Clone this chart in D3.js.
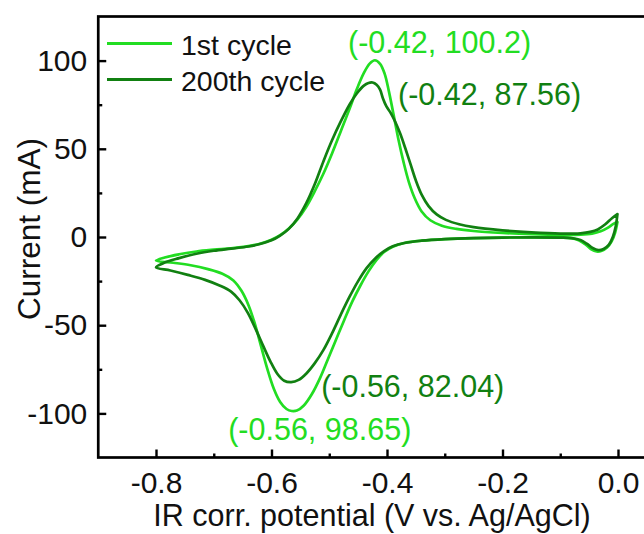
<!DOCTYPE html>
<html>
<head>
<meta charset="utf-8">
<script src="https://cdn.jsdelivr.net/npm/d3@7"></script>
<style>
  html, body { margin: 0; padding: 0; background: #fff; }
  svg { display: block; font-family: "Liberation Sans", Arial, Helvetica, sans-serif; }
</style>
</head>
<body>
<svg id="chart" width="644" height="534"></svg>
<script>
// ---------------- data ----------------
const seriesNames = ["1st cycle", "200th cycle"];

const cycle1V = [-0.001,-0.005,-0.011,-0.019,-0.028,-0.037,-0.047,-0.057,-0.068,-0.082,-0.10,-0.15,-0.20,-0.25,-0.30,-0.34,-0.37,-0.39,-0.405,-0.418,-0.432,-0.446,-0.46,-0.474,-0.488,-0.502,-0.516,-0.53,-0.544,-0.556,-0.565,-0.574,-0.585,-0.596,-0.607,-0.618,-0.629,-0.64,-0.652,-0.666,-0.685,-0.71,-0.74,-0.77,-0.8,
  -0.785,-0.76,-0.73,-0.70,-0.67,-0.64,-0.62,-0.60,-0.585,-0.57,-0.555,-0.54,-0.525,-0.51,-0.495,-0.48,-0.465,-0.452,-0.44,-0.43,-0.421,-0.412,-0.404,-0.397,-0.389,-0.38,-0.371,-0.362,-0.352,-0.34,-0.325,-0.305,-0.28,-0.25,-0.2,-0.15,-0.1,-0.065,-0.045,-0.03,-0.018,-0.008,-0.001];
const cycle1I = [8.5,2.5,-2.5,-6.0,-7.8,-8.2,-6.8,-4.0,-1.8,-0.6,-0.3,-0.2,-0.3,-0.6,-1.2,-2.1,-3.4,-5.5,-8.5,-13,-19.5,-27.5,-36.5,-47,-58,-69,-80,-89,-95.5,-98.4,-98.65,-97.5,-93.5,-86,-75,-62,-49,-38.5,-30.5,-24.6,-20.8,-18.2,-16,-14.6,-13.4,
  -11.6,-9.8,-8.2,-7.2,-6.4,-5.2,-3.8,-1.6,1.0,4.8,10,17,26,36,47.5,60,72.5,84,93,98.3,100.2,98.2,92.5,83,70,55,42,31,22,14.5,9.5,6.4,4.6,3.4,2.3,1.6,1.2,1.3,1.9,3.2,5.2,7.4,8.5];

const cycle200V = [-0.001,-0.004,-0.009,-0.016,-0.025,-0.034,-0.044,-0.054,-0.065,-0.08,-0.10,-0.15,-0.20,-0.25,-0.30,-0.34,-0.37,-0.39,-0.405,-0.42,-0.435,-0.45,-0.465,-0.48,-0.495,-0.51,-0.525,-0.54,-0.553,-0.566,-0.578,-0.59,-0.602,-0.614,-0.627,-0.641,-0.655,-0.67,-0.69,-0.715,-0.745,-0.775,-0.8,
  -0.785,-0.76,-0.73,-0.70,-0.67,-0.64,-0.62,-0.60,-0.585,-0.57,-0.555,-0.54,-0.525,-0.51,-0.495,-0.48,-0.465,-0.452,-0.44,-0.432,-0.425,-0.418,-0.412,-0.407,-0.401,-0.394,-0.386,-0.377,-0.368,-0.359,-0.35,-0.34,-0.328,-0.314,-0.298,-0.275,-0.25,-0.2,-0.15,-0.1,-0.065,-0.048,-0.035,-0.022,-0.01,-0.001];
const cycle200I = [13,6,0,-4.5,-6.8,-7.4,-6.2,-3.8,-1.7,-0.6,-0.3,-0.2,-0.3,-0.6,-1.2,-2.1,-3.4,-5.3,-8,-12,-17.5,-25,-34,-44,-54.5,-64,-71.5,-77.5,-81,-82.3,-81.5,-77.5,-70.5,-62,-52.5,-43,-36,-31,-27.5,-24.3,-21.5,-19,-17.2,
  -14.5,-12,-9.5,-7.8,-6.6,-5.4,-4.0,-1.9,0.8,4.6,10.5,19,30,43,55,65.5,75,81.5,85.8,87.3,87.56,86.3,83.5,78.5,74,70.5,65.5,58.5,50,41,32,24,17.5,12.8,9.7,7.2,5.6,3.8,2.6,1.9,2.1,2.9,4.3,7.2,10.8,13];

const xTickValues = [-0.8, -0.6, -0.4, -0.2, 0.0];
const xTickLabels = ["-0.8", "-0.6", "-0.4", "-0.2", "0.0"];
const xMinorTicks = [-0.7, -0.5, -0.3, -0.1];
const yTickValues = [-100, -50, 0, 50, 100];
const yTickLabels = ["-100", "-50", "0", "50", "100"];
const yMinorTicks = [-75, -25, 25, 75];

const annotTexts = ["(-0.42, 100.2)", "(-0.42, 87.56)", "(-0.56, 82.04)", "(-0.56, 98.65)"];
const annotSeries = [0, 1, 1, 0];
const annotV = [-0.4675, -0.381, -0.514, -0.675];
const annotI = [104.3, 74.8, -90.7, -115.1];

const xTitle = "IR corr. potential (V vs. Ag/AgCl)";
const yTitle = "Current (mA)";

// ---------------- layout ----------------
const colors = ["#22dd22", "#118011"];
const plot = { left: 98.25, right: 675.75, top: 16.5, bottom: 457.5 };

const svg = d3.select("#chart");
const x = d3.scaleLinear().domain([-0.9, 0.1]).range([plot.left, plot.right]);
const y = d3.scaleLinear().domain([-125, 125]).range([plot.bottom, plot.top]);

// curves
const series = [
  d3.zip(cycle1V, cycle1I),
  d3.zip(cycle200V, cycle200I)
];
const line = d3.line().x(d => x(d[0])).y(d => y(d[1])).curve(d3.curveCatmullRom.alpha(0.5));
series.forEach((s, k) => {
  svg.append("path").datum(s)
    .attr("d", line)
    .attr("fill", "none")
    .attr("stroke", colors[k])
    .attr("stroke-width", 2.7)
    .attr("stroke-linejoin", "round")
    .attr("stroke-linecap", "round");
});

// axes
const fontSize = 30;
const xAxis = d3.axisBottom(x).tickValues(xTickValues)
  .tickFormat((d, i) => xTickLabels[i]).tickSize(-8).tickPadding(14);
const gx = svg.append("g").attr("transform", `translate(0,${plot.bottom})`).call(xAxis);
const gxm = svg.append("g").attr("transform", `translate(0,${plot.bottom})`)
  .call(d3.axisBottom(x).tickValues(xMinorTicks).tickFormat("").tickSize(-4));

const yAxis = d3.axisLeft(y).tickValues(yTickValues)
  .tickFormat((d, i) => yTickLabels[i]).tickSize(-8).tickPadding(11);
const gy = svg.append("g").attr("transform", `translate(${plot.left},0)`).call(yAxis);
const gym = svg.append("g").attr("transform", `translate(${plot.left},0)`)
  .call(d3.axisLeft(y).tickValues(yMinorTicks).tickFormat("").tickSize(-4));

[gx, gxm, gy, gym].forEach(g => {
  g.select(".domain").remove();
  g.selectAll("line").attr("stroke", "#000").attr("stroke-width", 2.4);
  g.selectAll("text").attr("fill", "#111").attr("font-size", fontSize)
    .attr("font-family", "'Liberation Sans', Arial, sans-serif");
});

// frame
svg.append("rect")
  .attr("x", plot.left).attr("y", plot.top)
  .attr("width", plot.right - plot.left).attr("height", plot.bottom - plot.top)
  .attr("fill", "none").attr("stroke", "#000").attr("stroke-width", 2.7);

// axis titles
svg.append("text")
  .attr("x", 372).attr("y", 526)
  .attr("text-anchor", "middle").attr("font-size", 30.5).attr("fill", "#111")
  .text(xTitle);
svg.append("text")
  .attr("transform", `translate(40,229) rotate(-90)`)
  .attr("text-anchor", "middle").attr("font-size", 31.5).attr("fill", "#111")
  .text(yTitle);

// legend
const legend = svg.append("g");
seriesNames.forEach((name, k) => {
  const ly = 43.5 + k * 36;
  legend.append("line").attr("x1", 107).attr("x2", 172).attr("y1", ly).attr("y2", ly)
    .attr("stroke", colors[k]).attr("stroke-width", 2.8);
  legend.append("text").attr("x", 181).attr("y", ly + 11)
    .attr("font-size", 28.5).attr("fill", "#111").text(name);
});

// peak annotations
annotTexts.forEach((t, k) => {
  svg.append("text")
    .attr("x", x(annotV[k])).attr("y", y(annotI[k]))
    .attr("font-size", 30.5).attr("fill", colors[annotSeries[k]])
    .text(t);
});
</script>
</body>
</html>
